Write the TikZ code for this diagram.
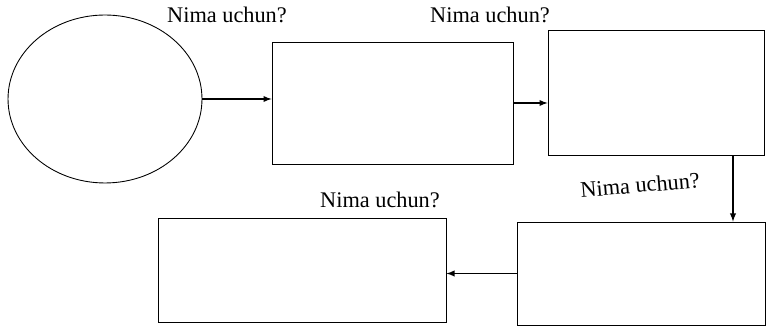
\documentclass[tikz,border=0pt]{standalone}
\usepackage{fontspec}
\setmainfont{Liberation Serif}
\usetikzlibrary{shapes.geometric}

\tikzset{
	blank/.style={draw, line width=0.5pt, inner sep=0pt},
	why/.style={font=\fontsize{12.7}{15}\selectfont}
}

\begin{document}
\begin{tikzpicture}[x=0.02cm, y=-0.02cm]
	\useasboundingbox (0,0) rectangle (766,330);
	\node[blank, ellipse, minimum width=3.88cm, minimum height=3.36cm] at (105,99)(e){};
	\node[blank, minimum width=4.82cm, minimum height=2.44cm] at (392.5,103)(b1){};
	\node[blank, minimum width=4.32cm, minimum height=2.5cm] at (656,92.5)(b2){};
	\node[blank, minimum width=4.96cm, minimum height=2.06cm] at (641,273.5)(b3){};
	\node[blank, minimum width=5.76cm, minimum height=2.08cm] at (302,270)(b4){};

	\node[why] at (227,15)(q1){Nima uchun?};
	\node[why] at (490,15)(q2){Nima uchun?};
	\node[why, rotate=5] at (640,185)(q3){Nima uchun?};
	\node[why] at (380,200)(q4){Nima uchun?};

	\coordinate (d) at ([xshift=1.54cm]b2.south);
	\path[-latex, line width=0.6pt] (e.east)edge(e.east -| b1.west)
		(b1.east)edge(b1.east -| b2.west)
		(d)edge(d |- b3.north)
		(b3.west)edge(b3.west -| b4.east);
\end{tikzpicture}
\end{document}
